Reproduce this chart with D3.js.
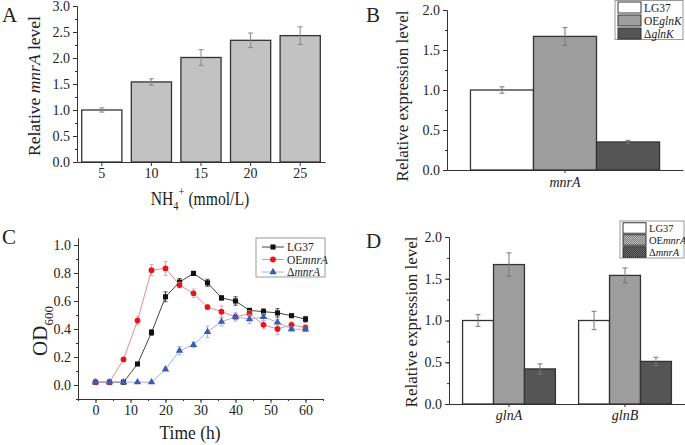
<!DOCTYPE html>
<html>
<head>
<meta charset="utf-8">
<script src="https://cdn.jsdelivr.net/npm/d3@7"></script>
<style>
  body { margin: 0; background: #fff; }
  svg { display: block; font-family: "Liberation Serif", "Times New Roman", serif; }
</style>
</head>
<body>
<svg id="chart" width="685" height="445"></svg>
<script>
// ---- data ----
// panel A
var nh4Levels = ["5", "10", "15", "20", "25"];
var mnrALevel = [1.00, 1.54, 2.01, 2.34, 2.43];
var mnrAErr = [0.04, 0.06, 0.15, 0.14, 0.17];

// panel B
var strainsB = ["LG37", "OE", "Δ"];
var strainsBGene = ["", "glnK", "glnK"];
var genesB = ["mnrA"];
var mnrAExpr = [1.00, 1.67, 0.35];
var mnrAExprErr = [0.04, 0.11, 0.02];

// panel C
var timeHours = [0, 4, 8, 12, 16, 20, 24, 28, 32, 36, 40, 44, 48, 52, 56, 60];
var odLG37 = [0.02, 0.02, 0.02, 0.15, 0.375, 0.63, 0.735, 0.797, 0.73, 0.622, 0.60, 0.533, 0.524, 0.515, 0.495, 0.47];
var odLG37Err = [0, 0, 0, 0.01, 0.02, 0.035, 0.025, 0.015, 0.025, 0.015, 0.03, 0.01, 0.02, 0.03, 0.01, 0.02];
var odOE = [0.02, 0.02, 0.183, 0.46, 0.82, 0.833, 0.714, 0.655, 0.557, 0.524, 0.486, 0.51, 0.43, 0.40, 0.43, 0.41];
var odOEErr = [0, 0, 0.01, 0.03, 0.04, 0.05, 0.02, 0.03, 0.015, 0.04, 0.02, 0.02, 0.03, 0.04, 0.02, 0.02];
var odDel = [0.02, 0.02, 0.02, 0.02, 0.02, 0.112, 0.245, 0.286, 0.38, 0.452, 0.486, 0.47, 0.486, 0.448, 0.40, 0.397];
var odDelErr = [0, 0, 0, 0, 0, 0.01, 0.03, 0.02, 0.04, 0.03, 0.03, 0.03, 0.025, 0.02, 0.015, 0.015];

// panel D
var genesD = ["glnA", "glnB"];
var strainsD = ["LG37", "OE", "Δ"];
var strainsDGene = ["", "mnrA", "mnrA"];
var glnAExpr = [1.00, 1.67, 0.42];
var glnAErr = [0.07, 0.14, 0.06];
var glnBExpr = [1.00, 1.54, 0.51];
var glnBErr = [0.11, 0.09, 0.05];

var svg = d3.select("#chart");
var defs = svg.append("defs");

// fine checker fills for the bars
function checker(id, bg, fg) {
  var p = defs.append("pattern")
    .attr("id", id)
    .attr("width", 2).attr("height", 2)
    .attr("patternUnits", "userSpaceOnUse");
  p.append("rect").attr("width", 2).attr("height", 2).attr("fill", bg);
  p.append("rect").attr("width", 1).attr("height", 1).attr("fill", fg);
  p.append("rect").attr("x", 1).attr("y", 1).attr("width", 1).attr("height", 1).attr("fill", fg);
}
checker("hLight", "#bdbdbd", "#7e7e7e");
checker("hDark", "#6e6e6e", "#3c3c3c");
var barFills = ["#ffffff", "url(#hLight)", "url(#hDark)"];

function styleAxis(g, size) {
  g.attr("font-family", null).attr("font-size", size);
  g.selectAll("path, line").attr("stroke", "#333");
  g.selectAll("text").attr("fill", "#222");
}

function letter(x, y, t) {
  svg.append("text").attr("x", x).attr("y", y)
    .attr("font-size", 21).attr("fill", "#222").text(t);
}

function yTitle(x, y, size, parts) {
  var t = svg.append("text")
    .attr("transform", "translate(" + x + "," + y + ") rotate(-90)")
    .attr("text-anchor", "middle")
    .attr("font-size", size).attr("fill", "#222");
  parts.forEach(function(p) {
    t.append("tspan").attr("font-style", p[1] ? "italic" : null).text(p[0]);
  });
  return t;
}

function errBar(g, cx, yTop, yBot, w, color) {
  g.append("line").attr("x1", cx).attr("x2", cx).attr("y1", yTop).attr("y2", yBot)
    .attr("stroke", color).attr("stroke-width", 1);
  g.append("line").attr("x1", cx - w / 2).attr("x2", cx + w / 2).attr("y1", yTop).attr("y2", yTop)
    .attr("stroke", color).attr("stroke-width", 1);
  g.append("line").attr("x1", cx - w / 2).attr("x2", cx + w / 2).attr("y1", yBot).attr("y2", yBot)
    .attr("stroke", color).attr("stroke-width", 1);
}

// ================= Panel A =================
var xA = d3.scaleBand().domain(nh4Levels).range([77, 325]).paddingInner(0.19).paddingOuter(0.095);
var yA = d3.scaleLinear().domain([0, 3]).range([162, 6]);
var gA = svg.append("g");

gA.append("g").attr("transform", "translate(77,0)")
  .call(d3.axisLeft(yA).tickValues(d3.range(0, 3.01, 0.25)).tickSize(2).tickFormat("").tickSizeOuter(0))
  .call(styleAxis, 14);
gA.append("g").attr("transform", "translate(77,0)")
  .call(d3.axisLeft(yA).tickValues(d3.range(0, 3.01, 0.5)).tickFormat(d3.format(".1f")).tickSize(4).tickPadding(3).tickSizeOuter(0))
  .call(styleAxis, 14);
gA.append("g").attr("transform", "translate(0,162)")
  .call(d3.axisBottom(xA).tickSize(4).tickPadding(2).tickSizeOuter(0))
  .call(styleAxis, 14);

gA.selectAll("rect.bar").data(nh4Levels).join("rect")
  .attr("class", "bar")
  .attr("x", d => xA(d))
  .attr("y", (d, i) => yA(mnrALevel[i]))
  .attr("width", xA.bandwidth())
  .attr("height", (d, i) => yA(0) - yA(mnrALevel[i]))
  .attr("fill", (d, i) => i === 0 ? "#fff" : "#c2c2c2")
  .attr("stroke", "#333").attr("stroke-width", 1.3);
nh4Levels.forEach(function(d, i) {
  errBar(gA, xA(d) + xA.bandwidth() / 2, yA(mnrALevel[i] + mnrAErr[i]), yA(mnrALevel[i] - mnrAErr[i]), 5, "#888");
});

yTitle(40, 86, 17.5, [["Relative "], ["mnrA", true], [" level"]]);
// the source figure is a bit narrow, so squeeze the horizontal title
var xtA = svg.append("text").attr("transform", "translate(200,205) scale(0.87,1)")
  .attr("text-anchor", "middle")
  .attr("font-size", 18).attr("fill", "#222");
xtA.append("tspan").text("NH");
xtA.append("tspan").attr("font-size", 12).attr("dy", 5).text("4");
xtA.append("tspan").attr("font-size", 12).attr("dy", -14).text("+");
xtA.append("tspan").attr("dy", 9).text(" (mmol/L)");
letter(2, 22, "A");

// grouped bar panel (B and D)
function groupedPanel(opt) {
  var g = svg.append("g");
  var x0 = d3.scaleBand().domain(opt.groups).range(opt.xr).paddingInner(opt.pi).paddingOuter(opt.po);
  var x1 = d3.scaleBand().domain(opt.strains.map((s, i) => i)).range([0, x0.bandwidth()]);
  var y = d3.scaleLinear().domain([0, 2]).range(opt.yr);

  g.append("g").attr("transform", "translate(" + opt.xr[0] + ",0)")
    .call(d3.axisLeft(y).tickValues(d3.range(0, 2.01, 0.25)).tickSize(2).tickFormat("").tickSizeOuter(0))
    .call(styleAxis, 14);
  g.append("g").attr("transform", "translate(" + opt.xr[0] + ",0)")
    .call(d3.axisLeft(y).tickValues(d3.range(0, 2.01, 0.5)).tickFormat(d3.format(".1f")).tickSize(4).tickPadding(3).tickSizeOuter(0))
    .call(styleAxis, 14);
  var xa = g.append("g").attr("transform", "translate(0," + opt.yr[0] + ")")
    .call(d3.axisBottom(x0).tickSize(3).tickPadding(opt.tickPad).tickSizeOuter(0))
    .call(styleAxis, 14);
  xa.selectAll("text").attr("font-style", "italic");

  opt.groups.forEach(function(grp, gi) {
    var vals = opt.values[gi], errs = opt.errs[gi];
    var gg = g.append("g").attr("transform", "translate(" + x0(grp) + ",0)");
    gg.selectAll("rect").data(vals).join("rect")
      .attr("x", (d, i) => x1(i))
      .attr("y", d => y(d))
      .attr("width", x1.bandwidth())
      .attr("height", d => y(0) - y(d))
      .attr("fill", (d, i) => barFills[i])
      .attr("stroke", "#333").attr("stroke-width", 1.3);
    vals.forEach(function(v, i) {
      errBar(gg, x1(i) + x1.bandwidth() / 2, y(v + errs[i]), y(v - errs[i]), 5, "#777");
    });
  });

  // legend
  var L = opt.legend;
  var lg = svg.append("g").attr("transform", "translate(" + L.x + "," + L.y + ")");
  lg.append("rect").attr("width", L.w).attr("height", L.h)
    .attr("fill", "#fff").attr("stroke", "#999").attr("stroke-width", 1);
  opt.strains.forEach(function(s, i) {
    var cy = L.row0 + i * L.step;
    lg.append("rect").attr("x", 3).attr("y", cy - L.sh / 2).attr("width", 23).attr("height", L.sh)
      .attr("fill", barFills[i]).attr("stroke", "#333").attr("stroke-width", 1);
    var t = lg.append("text").attr("x", 29).attr("y", cy + 4)
      .attr("font-size", L.fs).attr("fill", "#222");
    t.append("tspan").text(s);
    if (opt.strainGenes[i]) t.append("tspan").attr("font-style", "italic").text(opt.strainGenes[i]);
  });
  return g;
}

// ================= Panel B =================
groupedPanel({
  groups: genesB, strains: strainsB, strainGenes: strainsBGene,
  values: [mnrAExpr], errs: [mnrAExprErr],
  xr: [447, 683], yr: [170, 10], pi: 0, po: 0.124, tickPad: 4,
  legend: { x: 615, y: 0.5, w: 68, h: 39, row0: 7, step: 13, sh: 11, fs: 11.5 }
});
yTitle(408, 96, 17, [["Relative expression level"]]);
letter(366, 22, "B");

// ================= Panel C =================
var xC = d3.scaleLinear().domain([-5, 65]).range([78, 323]);
var yC = d3.scaleLinear().domain([-0.1, 1.05]).range([399, 238]);
var gC = svg.append("g");

gC.append("g").attr("transform", "translate(78,0)")
  .call(d3.axisLeft(yC).tickValues(d3.range(-0.1, 1.051, 0.1)).tickSize(2).tickFormat("").tickSizeOuter(0))
  .call(styleAxis, 14);
gC.append("g").attr("transform", "translate(78,0)")
  .call(d3.axisLeft(yC).tickValues(d3.range(0, 1.01, 0.2)).tickFormat(d3.format(".1f")).tickSize(4).tickPadding(3).tickSizeOuter(0))
  .call(styleAxis, 14);
gC.append("g").attr("transform", "translate(0,399)")
  .call(d3.axisBottom(xC).tickValues(d3.range(-5, 65.1, 5)).tickSize(2).tickFormat("").tickSizeOuter(0))
  .call(styleAxis, 14);
gC.append("g").attr("transform", "translate(0,399)")
  .call(d3.axisBottom(xC).tickValues(d3.range(0, 60.1, 10)).tickSize(4).tickPadding(2).tickSizeOuter(0))
  .call(styleAxis, 14);

var seriesC = [
  { name: "LG37", gene: "", vals: odLG37, errs: odLG37Err, line: "#444", mark: "#111", err: "#444", shape: d3.symbolSquare, size: 26 },
  { name: "OE", gene: "mnrA", vals: odOE, errs: odOEErr, line: "#f08a8a", mark: "#e8141c", err: "#f4a0a0", shape: d3.symbolCircle, size: 26 },
  { name: "Δ", gene: "mnrA", vals: odDel, errs: odDelErr, line: "#a4b2e2", mark: "#3a5cb4", err: "#a8b6e4", shape: d3.symbolTriangle, size: 24 }
];
var lineC = d3.line().x((d, i) => xC(timeHours[i])).y(d => yC(d));

seriesC.forEach(function(s) {
  var sg = gC.append("g");
  s.vals.forEach(function(v, i) {
    if (s.errs[i] > 0) errBar(sg, xC(timeHours[i]), yC(v + s.errs[i]), yC(v - s.errs[i]), 4, s.err);
  });
  sg.append("path").datum(s.vals).attr("d", lineC)
    .attr("fill", "none").attr("stroke", s.line).attr("stroke-width", 1);
  sg.selectAll("path.pt").data(s.vals).join("path").attr("class", "pt")
    .attr("transform", (d, i) => "translate(" + xC(timeHours[i]) + "," + yC(d) + ")")
    .attr("d", d3.symbol().type(s.shape).size(s.size))
    .attr("fill", s.mark);
});

// legend C
var lgC = svg.append("g").attr("transform", "translate(256,238)");
lgC.append("rect").attr("width", 69).attr("height", 39)
  .attr("fill", "#fff").attr("stroke", "#999").attr("stroke-width", 1);
seriesC.forEach(function(s, i) {
  var cy = 9 + i * 12.5;
  lgC.append("line").attr("x1", 6).attr("x2", 28).attr("y1", cy).attr("y2", cy)
    .attr("stroke", s.line).attr("stroke-width", 1);
  lgC.append("path").attr("transform", "translate(17," + cy + ")")
    .attr("d", d3.symbol().type(s.shape).size(s.size)).attr("fill", s.mark);
  var t = lgC.append("text").attr("x", 31).attr("y", cy + 4)
    .attr("font-size", 11.5).attr("fill", "#222");
  t.append("tspan").text(s.name);
  if (s.gene) t.append("tspan").attr("font-style", "italic").text(s.gene);
});

var ytC = svg.append("text")
  .attr("transform", "translate(47,331) rotate(-90)")
  .attr("text-anchor", "middle").attr("font-size", 21).attr("fill", "#222");
ytC.append("tspan").text("OD");
ytC.append("tspan").attr("font-size", 13).attr("dy", 6).text("600");
svg.append("text").attr("transform", "translate(190,439) scale(0.92,1)")
  .attr("text-anchor", "middle")
  .attr("font-size", 19).attr("fill", "#222").text("Time (h)");
letter(2, 244, "C");

// ================= Panel D =================
groupedPanel({
  groups: genesD, strains: strainsD, strainGenes: strainsDGene,
  values: [glnAExpr, glnBExpr], errs: [glnAErr, glnBErr],
  xr: [449, 685], yr: [404, 237], pi: 0.2, po: 0.117, tickPad: 3,
  legend: { x: 620, y: 221, w: 64, h: 37, row0: 7, step: 12, sh: 10.5, fs: 10.5 }
});
yTitle(417, 322, 17, [["Relative expression level"]]);
letter(366, 248, "D");
</script>
</body>
</html>
